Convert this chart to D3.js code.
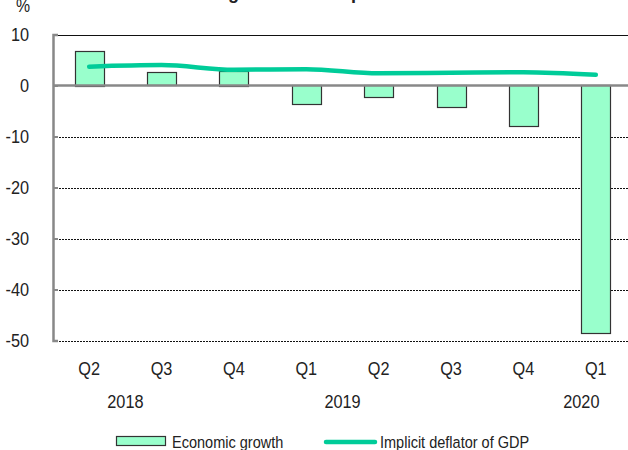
<!DOCTYPE html>
<html>
<head>
<meta charset="utf-8">
<script src="https://cdn.jsdelivr.net/npm/d3@7"></script>
<style>
  html, body { margin: 0; padding: 0; background: #fff; }
  svg { display: block; }
  text { font-family: "Liberation Sans", Arial, sans-serif; fill: #222; }
</style>
</head>
<body>
<svg id="chart" width="628" height="450"></svg>
<script>
const title = "Economic growth and implicit deflator of GDP";
const quarters = ["Q2", "Q3", "Q4", "Q1", "Q2", "Q3", "Q4", "Q1"];
const years = ["2018", "2019", "2020"];
const growth = [6.8, 2.6, 2.9, -3.8, -2.3, -4.4, -8.1, -48.7];
const deflator = [3.7, 4.0, 3.1, 3.2, 2.4, 2.5, 2.6, 2.1];
const yTicks = [10, 0, -10, -20, -30, -40, -50];
const seriesNames = ["Economic growth", "Implicit deflator of GDP"];

const svg = d3.select("#chart");
const W = 628;
const plotLeft = 53, plotRight = 632;
const plotTop = 34.5, plotBottom = 340.5;

const x = d3.scaleBand().domain(d3.range(quarters.length)).range([plotLeft, plotRight]).padding(0);
const y = d3.scaleLinear().domain([-50, 10]).range([plotBottom, plotTop]);
const barW = x.bandwidth() * 0.4;
const cx = (i) => x(i) + x.bandwidth() / 2;

// squeeze text horizontally to mimic a narrow font
function narrow(sel, sx) {
  sel.attr("transform", function () {
    const tx = +this.getAttribute("x"), ty = +this.getAttribute("y");
    return `translate(${tx},${ty}) scale(${sx},1)`;
  }).attr("x", 0).attr("y", 0);
}

// title, mostly cut off at the top edge
const t = svg.append("text")
  .attr("x", 0).attr("y", -1)
  .attr("font-size", 18).attr("font-weight", "bold")
  .text(title);
const gPos = t.node().getStartPositionOfChar(title.indexOf("growth")).x;
t.attr("x", 228 - gPos);

// unit
svg.append("text").attr("x", 23).attr("y", 12).attr("text-anchor", "middle")
  .attr("font-size", 18).text("%").call(narrow, 0.88);

// gridlines
svg.append("g").selectAll("line")
  .data(yTicks.filter((d) => d !== 0))
  .enter().append("line")
  .attr("x1", plotLeft).attr("x2", W)
  .attr("y1", (d) => Math.round(y(d)) + 0.5).attr("y2", (d) => Math.round(y(d)) + 0.5)
  .attr("stroke", "#111").attr("stroke-width", 1)
  .attr("stroke-dasharray", (d) => (d === 10 ? null : "2,1"));

// y axis
const yAxis = d3.axisRight(y).tickValues(yTicks).tickSize(5).tickFormat("");
const ag = svg.append("g").attr("transform", `translate(${plotLeft},0)`).call(yAxis);
ag.select(".domain").attr("stroke", "#888").attr("stroke-width", 2.5);
ag.selectAll(".tick line").attr("stroke", "#888").attr("stroke-width", 2);

svg.append("g").selectAll("text")
  .data(yTicks).enter().append("text")
  .attr("x", 29).attr("y", (d) => y(d) + 6)
  .attr("text-anchor", "end")
  .attr("font-size", 18.5)
  .text((d) => d)
  .call(narrow, 0.88);

// bars
svg.append("g").selectAll("rect")
  .data(growth).enter().append("rect")
  .attr("x", (d, i) => Math.round(cx(i) - barW / 2) + 0.5)
  .attr("y", (d) => Math.round(y(Math.max(0, d))) + 0.5)
  .attr("width", Math.round(barW))
  .attr("height", (d) => Math.round(Math.abs(y(d) - y(0))))
  .attr("fill", "#99ffcc")
  .attr("stroke", "#333").attr("stroke-width", 1.2);

// zero line
svg.append("line")
  .attr("x1", plotLeft).attr("x2", W)
  .attr("y1", y(0)).attr("y2", y(0))
  .attr("stroke", "#888").attr("stroke-width", 2.5);

// deflator line
const line = d3.line()
  .x((d, i) => cx(i))
  .y((d) => y(d))
  .curve(d3.curveMonotoneX);
svg.append("path")
  .datum(deflator)
  .attr("d", line)
  .attr("fill", "none")
  .attr("stroke", "#00cc99")
  .attr("stroke-width", 4.5)
  .attr("stroke-linecap", "round");

// x labels
svg.append("g").selectAll("text")
  .data(quarters).enter().append("text")
  .attr("x", (d, i) => cx(i)).attr("y", 374.5)
  .attr("text-anchor", "middle")
  .attr("font-size", 18.5)
  .text((d) => d)
  .call(narrow, 0.88);

const yearAt = [0.5, 3.5, 6.8];
svg.append("g").selectAll("text")
  .data(years).enter().append("text")
  .attr("x", (d, i) => plotLeft + x.step() * (yearAt[i] + 0.5))
  .attr("y", 407.5)
  .attr("text-anchor", "middle")
  .attr("font-size", 18.5)
  .text((d) => d)
  .call(narrow, 0.88);

// legend
const lg = svg.append("g");
lg.append("rect").attr("x", 116.5).attr("y", 436.5).attr("width", 49).attr("height", 9)
  .attr("fill", "#99ffcc").attr("stroke", "#333").attr("stroke-width", 1.2);
lg.append("text").attr("x", 172).attr("y", 448)
  .attr("font-size", 16.5).text(seriesNames[0]).call(narrow, 0.88);
lg.append("line").attr("x1", 326).attr("x2", 375).attr("y1", 442).attr("y2", 442)
  .attr("stroke", "#00cc99").attr("stroke-width", 4.5).attr("stroke-linecap", "round");
lg.append("text").attr("x", 380).attr("y", 448)
  .attr("font-size", 16.5).text(seriesNames[1]).call(narrow, 0.88);
</script>
</body>
</html>
